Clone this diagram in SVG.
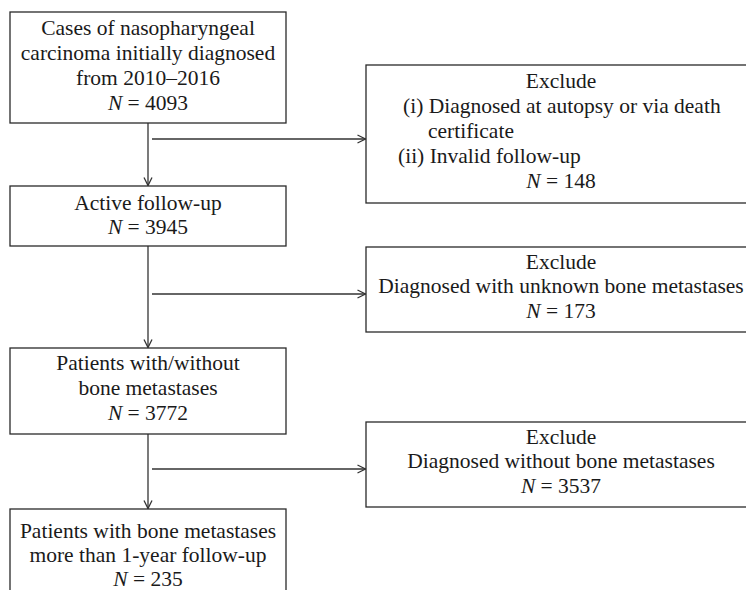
<svg xmlns="http://www.w3.org/2000/svg" width="746" height="590" viewBox="0 0 746 590">
<style>
.box{fill:#fff;stroke:#2a2a2a;stroke-width:1.3}
.t{font-family:"Liberation Serif","Times New Roman",serif;font-size:21.5px;fill:#1a1a1a}
.c{text-anchor:middle}
.i{font-style:italic}
.ln{fill:none;stroke:#333;stroke-width:1.3}
</style>
<defs>
<marker id="ah" markerUnits="userSpaceOnUse" markerWidth="10" markerHeight="10" refX="9" refY="5" orient="auto">
<path d="M1,1 L9,5 L1,9" fill="none" stroke="#333" stroke-width="1.3"/>
</marker>
</defs>
<g id="connectors">
<line class="ln" x1="148" y1="123" x2="148" y2="185.5" marker-end="url(#ah)"/>
<line class="ln" x1="152" y1="139" x2="365.5" y2="139" marker-end="url(#ah)"/>
<line class="ln" x1="148" y1="246" x2="148" y2="347.5" marker-end="url(#ah)"/>
<line class="ln" x1="152" y1="294" x2="365.5" y2="294" marker-end="url(#ah)"/>
<line class="ln" x1="148" y1="434" x2="148" y2="508.5" marker-end="url(#ah)"/>
<line class="ln" x1="152" y1="469" x2="365.5" y2="469" marker-end="url(#ah)"/>
</g>
<g id="n1">
<rect class="box" x="10" y="12" width="276" height="111"/>
<text class="t c" x="148" y="35">Cases of nasopharyngeal</text>
<text class="t c" x="148" y="60">carcinoma initially diagnosed</text>
<text class="t c" x="148" y="85">from 2010–2016</text>
<text class="t c" x="148" y="110"><tspan class="i">N</tspan> = 4093</text>
</g>
<g id="n2">
<rect class="box" x="10" y="186" width="276" height="60"/>
<text class="t c" x="148" y="210">Active follow-up</text>
<text class="t c" x="148" y="234"><tspan class="i">N</tspan> = 3945</text>
</g>
<g id="n3">
<rect class="box" x="10" y="348" width="276" height="86"/>
<text class="t c" x="148" y="370">Patients with/without</text>
<text class="t c" x="148" y="395">bone metastases</text>
<text class="t c" x="148" y="420"><tspan class="i">N</tspan> = 3772</text>
</g>
<g id="n4">
<rect class="box" x="10" y="509" width="276" height="90"/>
<text class="t c" x="148" y="538">Patients with bone metastases</text>
<text class="t c" x="148" y="562">more than 1-year follow-up</text>
<text class="t c" x="148" y="586"><tspan class="i">N</tspan> = 235</text>
</g>
<g id="e1">
<rect class="box" x="366" y="65" width="392" height="138"/>
<text class="t c" x="561" y="88">Exclude</text>
<text class="t" x="403" y="113">(i) Diagnosed at autopsy or via death</text>
<text class="t" x="428" y="138">certificate</text>
<text class="t" x="398" y="163">(ii) Invalid follow-up</text>
<text class="t c" x="561" y="188"><tspan class="i">N</tspan> = 148</text>
</g>
<g id="e2">
<rect class="box" x="366" y="247" width="392" height="85"/>
<text class="t c" x="561" y="269">Exclude</text>
<text class="t c" x="561" y="293">Diagnosed with unknown bone metastases</text>
<text class="t c" x="561" y="318"><tspan class="i">N</tspan> = 173</text>
</g>
<g id="e3">
<rect class="box" x="366" y="422" width="392" height="85"/>
<text class="t c" x="561" y="444">Exclude</text>
<text class="t c" x="561" y="468">Diagnosed without bone metastases</text>
<text class="t c" x="561" y="493"><tspan class="i">N</tspan> = 3537</text>
</g>
</svg>
